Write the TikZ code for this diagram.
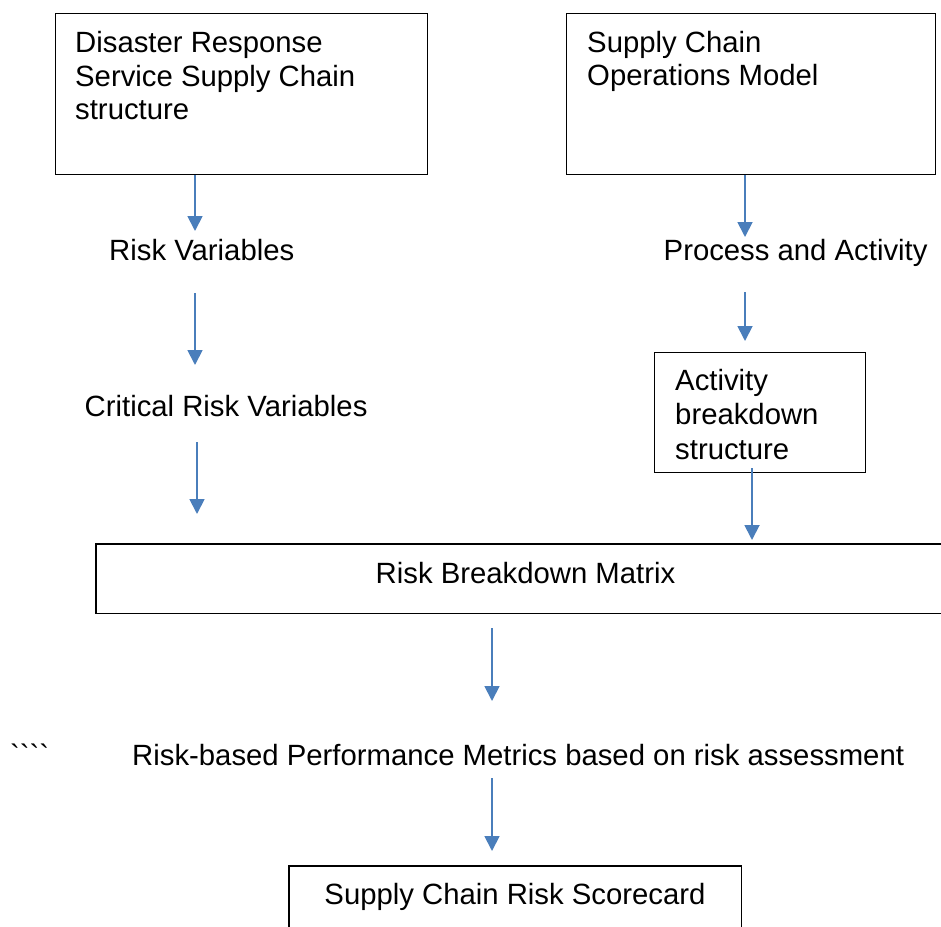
\documentclass[tikz,border=0pt]{standalone}
\usepackage{fontspec}
\setmainfont{Liberation Sans}
\newfontfamily\gravefont{Liberation Sans}[Ligatures=TeXOff]
\usetikzlibrary{arrows.meta}
\definecolor{arrblue}{HTML}{4A7EBB}
\begin{document}
\begin{tikzpicture}[x=1pt,y=-1pt,
  box/.style={draw=black,line width=1.3pt,inner sep=0pt,anchor=north west},
  openbox/.style={inner sep=0pt,anchor=north west},
  frame/.style={draw=black,line width=1.3pt},
  txt/.style={inner sep=0pt,anchor=base west,font=\fontsize{29.3}{33.5}\selectfont},
  mtxt/.style={inner sep=0pt,anchor=north west,align=left,font=\fontsize{29.3}{33.5}\selectfont},
  ctxt/.style={inner sep=0pt,anchor=base,font=\fontsize{29.3}{33.5}\selectfont},
  arr/.style={draw=arrblue,line width=1.8pt,-{Triangle[width=15pt,length=15pt]}}]
\useasboundingbox (0,0) rectangle (941,926);

% boxes
\node[box,minimum width=372pt,minimum height=161pt] (b1) at (55,13) {};
\node[box,minimum width=369pt,minimum height=161pt] (b2) at (566,13) {};
\node[box,minimum width=211pt,minimum height=120pt] (b3) at (654,352) {};
\node[openbox,minimum width=845pt,minimum height=69pt] (b4) at (96,544) {};
\node[openbox,minimum width=452pt,minimum height=62pt] (b5) at (289,866) {};
\draw[frame] (b4.north east) -- (b4.north west) -- (b4.south west) -- (b4.south east);
\draw[frame] (b5.south west) -- (b5.north west) -- (b5.north east) -- (b5.south east);

% texts
\node[mtxt] (t1) at (75,31.5) {Disaster Response\\Service Supply Chain\\structure};
\node[mtxt] (t2) at (587,31) {Supply Chain\\Operations Model};
\node[mtxt,font=\fontsize{29.3}{34.5}\selectfont] (t3) at (675,368.7) {Activity\\breakdown\\structure};
\node[txt] (rv) at (109,260) {Risk Variables};
\node[txt] (crv) at (84.5,416) {Critical Risk Variables};
\node[txt] (pa) at (663.5,260) {Process and Activity};
\node[ctxt] (rbm) at (525.5,583) {Risk Breakdown Matrix};
\node[txt] (bt) at (10,765) {\gravefont\char96\char96\char96\char96};
\node[txt] (rpm) at (132,765) {Risk-based Performance Metrics based on risk assessment};
\node[ctxt] (sc) at (515,904) {Supply Chain Risk Scorecard};

% arrow end points
\coordinate (a1s) at (195,175);
\coordinate (a1e) at (195,231);
\coordinate (a2s) at (195,293);
\coordinate (a2e) at (195,365);
\coordinate (a3s) at (197,442);
\coordinate (a3e) at (197,514);
\coordinate (a4s) at (745,175);
\coordinate (a4e) at (745,237);
\coordinate (a5s) at (745,292);
\coordinate (a5e) at (745,341);
\coordinate (a6s) at (752,468);
\coordinate (a6e) at (752,540);
\coordinate (a7s) at (492,628);
\coordinate (a7e) at (492,701);
\coordinate (a8s) at (492,778);
\coordinate (a8e) at (492,851);

\draw[arr] (a1s) -- (a1e);
\draw[arr] (a2s) -- (a2e);
\draw[arr] (a3s) -- (a3e);
\draw[arr] (a4s) -- (a4e);
\draw[arr] (a5s) -- (a5e);
\draw[arr] (a6s) -- (a6e);
\draw[arr] (a7s) -- (a7e);
\draw[arr] (a8s) -- (a8e);
\end{tikzpicture}
\end{document}
